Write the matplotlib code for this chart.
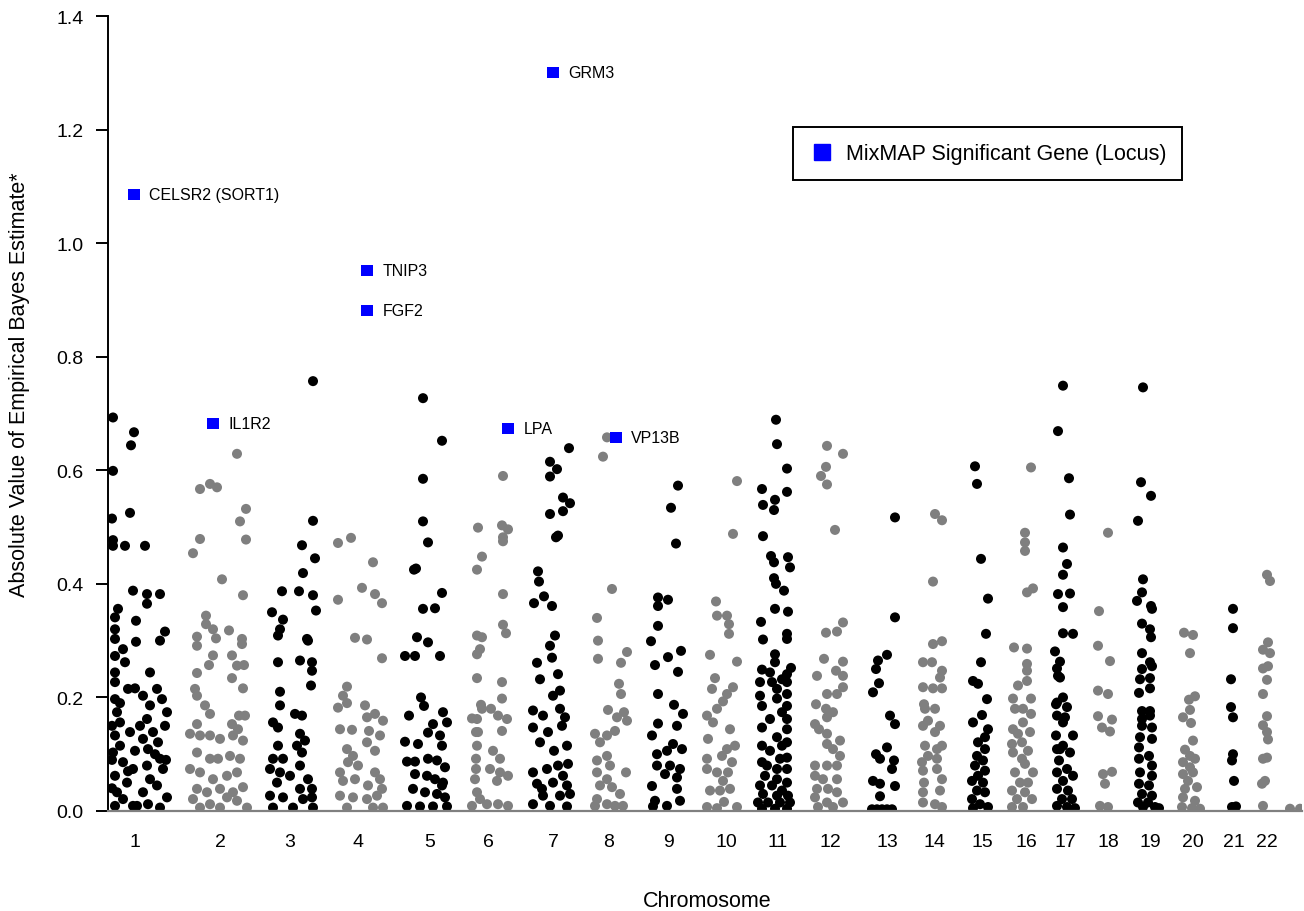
import matplotlib
matplotlib.use('Agg')
import matplotlib.pyplot as plt
from matplotlib.lines import Line2D

plt.rcParams['font.family'] = ['Liberation Sans', 'DejaVu Sans']

# position along the genome (plot units), absolute value of EB estimate
chr1 = [(113,.693),(134,.667),(131,.644),(113,.599),(130,.525),(112,.515),(113,.477),(113,.467),(125,.467),(145,.467),
        (133,.388),(147,.382),(147,.365),(160,.382),(118,.356),(115,.341),(136,.335),(115,.320),(165,.316),(115,.303),
        (160,.300),(136,.298),(123,.285),(115,.273),(125,.262),(115,.244),(150,.244),(115,.227),(128,.215),(135,.216),
        (157,.215),(143,.203),(115,.197),(162,.197),(150,.186),(117,.174),(167,.174),(147,.162),(120,.156),(130,.139),
        (153,.139),(115,.133),(143,.127),(158,.121),(120,.115),(148,.109),(135,.106),(113,.103),(160,.092),(123,.086),
        (147,.080),(133,.074),(163,.074),(115,.062),(150,.056),(127,.050),(157,.045),(117,.033),(143,.033),(123,.021),
        (167,.024),(148,.012),(115,.009),(133,.009),(137,.009),(160,.006),(112,.150),(112,.090),(112,.040),(120,.190),
        (155,.100),(165,.150),(140,.150),(128,.070),(166,.090)]
chr2 = [(237,.629),(200,.567),(210,.576),(217,.570),(246,.532),(240,.510),(200,.479),(246,.478),(193,.454),(222,.408),
        (243,.380),(206,.344),(206,.329),(213,.320),(197,.307),(197,.291),(216,.304),(229,.318),(242,.303),(242,.294),
        (213,.274),(209,.257),(232,.274),(237,.256),(244,.257),(197,.243),(232,.234),(243,.216),(195,.215),(197,.203),
        (205,.186),(210,.171),(239,.168),(245,.168),(232,.153),(197,.153),(190,.136),(200,.133),(210,.133),(220,.127),
        (233,.133),(243,.124),(238,.144),(197,.103),(210,.092),(218,.092),(230,.097),(240,.092),(190,.074),(200,.068),
        (213,.056),(227,.062),(237,.068),(243,.042),(197,.039),(207,.033),(220,.039),(233,.033),(193,.021),(210,.012),
        (227,.024),(237,.018),(200,.006),(247,.006),(220,.006)]
chr3 = [(313,.757),(313,.511),(302,.468),(315,.445),(303,.419),(282,.387),(299,.387),(313,.380),(316,.353),(272,.350),
        (283,.337),(280,.320),(278,.309),(307,.303),(308,.300),(278,.262),(300,.265),(312,.262),(312,.247),(311,.221),
        (280,.210),(280,.186),(295,.171),(302,.168),(273,.156),(278,.147),(300,.136),(305,.124),(278,.115),(297,.115),
        (302,.103),(273,.092),(283,.092),(300,.080),(270,.074),(280,.068),(290,.062),(308,.056),(277,.050),(300,.039),
        (312,.039),(270,.027),(283,.024),(303,.021),(312,.024),(273,.006),(293,.006),(313,.006)]
chr4 = [(338,.472),(351,.481),(373,.438),(362,.393),(338,.372),(375,.382),(382,.366),(355,.305),(367,.302),(382,.269),
        (347,.219),(343,.203),(347,.190),(338,.182),(365,.186),(375,.171),(367,.165),(383,.159),(340,.144),(352,.143),
        (369,.141),(380,.133),(367,.121),(375,.106),(347,.109),(353,.097),(348,.086),(358,.080),(340,.068),(355,.056),
        (343,.053),(375,.068),(380,.056),(368,.045),(382,.039),(340,.027),(353,.024),(367,.021),(377,.027),(347,.006),
        (373,.006),(383,.006)]
chr5 = [(423,.727),(442,.652),(423,.585),(423,.510),(428,.473),(416,.427),(414,.425),(442,.384),(423,.356),(435,.357),
        (417,.306),(428,.297),(405,.273),(415,.273),(440,.273),(421,.200),(424,.185),(409,.168),(443,.174),(447,.156),
        (433,.153),(428,.138),(440,.133),(405,.122),(418,.118),(442,.115),(407,.087),(415,.087),(428,.092),(437,.089),
        (445,.077),(415,.065),(427,.062),(435,.056),(443,.050),(413,.039),(425,.033),(437,.030),(445,.024),(407,.009),
        (420,.008),(433,.008),(447,.008),(442,.045)]
chr6 = [(503,.590),(478,.499),(502,.503),(508,.496),(503,.482),(503,.475),(482,.448),(477,.425),(503,.382),(477,.309),
        (482,.306),(503,.328),(506,.313),(480,.285),(477,.276),(477,.234),(502,.227),(502,.198),(481,.187),(472,.163),
        (491,.180),(498,.168),(507,.162),(502,.141),(477,.162),(478,.139),(477,.115),(493,.106),(500,.092),(476,.092),
        (490,.074),(500,.068),(508,.062),(475,.056),(497,.053),(477,.033),(472,.009),(487,.012),(498,.012),(508,.009),
        (480,.021),(476,.074),(476,.139),(482,.180)]
chr7 = [(569,.639),(550,.615),(557,.602),(550,.589),(563,.552),(570,.542),(563,.528),(550,.523),(558,.485),(556,.482),
        (538,.422),(539,.404),(544,.378),(552,.361),(534,.366),(555,.309),(550,.291),(552,.270),(537,.261),(540,.232),
        (558,.241),(560,.212),(553,.203),(533,.177),(560,.180),(543,.168),(565,.165),(533,.147),(548,.139),(562,.150),
        (540,.121),(554,.106),(567,.115),(533,.068),(547,.074),(558,.080),(568,.083),(563,.062),(537,.048),(553,.050),
        (567,.045),(543,.027),(560,.027),(533,.012),(550,.009),(567,.008),(542,.039),(570,.030)]
chr8 = [(607,.658),(603,.624),(612,.391),(597,.340),(598,.300),(598,.268),(627,.280),(621,.261),(619,.224),(621,.206),
        (608,.178),(624,.174),(617,.165),(627,.159),(615,.141),(595,.136),(607,.133),(600,.121),(597,.089),(607,.097),
        (610,.080),(597,.068),(607,.056),(626,.068),(600,.045),(612,.042),(597,.021),(620,.030),(607,.012),(595,.009),
        (623,.009),(615,.009)]
chr9 = [(678,.573),(671,.534),(676,.471),(658,.376),(668,.372),(658,.361),(658,.326),(651,.299),(681,.282),(655,.257),
        (668,.271),(678,.245),(658,.206),(674,.187),(683,.171),(658,.154),(677,.150),(652,.133),(673,.118),(682,.109),
        (657,.100),(667,.106),(657,.080),(670,.080),(680,.074),(665,.065),(677,.059),(677,.039),(652,.044),(655,.018),
        (680,.018),(667,.009),(653,.008)]
chr10 = [(737,.581),(733,.488),(716,.369),(717,.344),(727,.344),(729,.329),(729,.312),(710,.275),(737,.263),(715,.234),
         (712,.215),(733,.218),(727,.206),(723,.193),(717,.180),(707,.168),(713,.156),(730,.144),(708,.127),(735,.115),
         (727,.109),(707,.092),(722,.097),(732,.086),(707,.074),(717,.068),(728,.068),(723,.053),(710,.036),(720,.036),
         (730,.039),(724,.016),(707,.007),(737,.007),(717,.005)]
chr11 = [(776,.689),(777,.646),(787,.603),(787,.562),(762,.567),(775,.548),(763,.539),(774,.530),(763,.484),(771,.449),
         (774,.438),(788,.447),(790,.429),(774,.410),(776,.400),(784,.388),(775,.356),(788,.351),(761,.333),(763,.302),
         (787,.312),(787,.303),(775,.276),(775,.262),(791,.252),(762,.249),(770,.244),(787,.241),(760,.227),(772,.227),
         (787,.227),(777,.215),(760,.203),(787,.206),(762,.185),(777,.198),(787,.185),(770,.162),(762,.147),(787,.162),
         (787,.144),(777,.130),(762,.115),(787,.121),(770,.106),(762,.086),(780,.092),(787,.094),(777,.074),(787,.074),
         (765,.062),(777,.056),(760,.045),(772,.045),(787,.050),(782,.036),(763,.030),(777,.027),(788,.027),(758,.015),
         (768,.015),(780,.015),(790,.015),(762,.004),(775,.004),(787,.004),(782,.115),(782,.174),(782,.232),(767,.080)]
chr12 = [(827,.643),(843,.629),(826,.606),(821,.590),(827,.575),(835,.495),(843,.332),(826,.314),(837,.316),(824,.268),
         (843,.263),(817,.238),(836,.247),(843,.238),(843,.218),(827,.206),(837,.206),(816,.188),(826,.180),(833,.174),
         (827,.165),(815,.153),(819,.144),(827,.136),(840,.124),(827,.118),(833,.109),(840,.097),(815,.080),(827,.080),
         (837,.080),(815,.062),(823,.056),(837,.056),(817,.039),(828,.039),(837,.033),(815,.024),(827,.015),(843,.015),
         (818,.007),(833,.007)]
chr13 = [(895,.517),(895,.341),(887,.275),(878,.265),(876,.250),(879,.225),(873,.209),(890,.168),(895,.153),(887,.112),
         (876,.100),(880,.092),(894,.089),(892,.074),(873,.053),(880,.048),(895,.044),(880,.026),(872,.003),(877,.003),
         (882,.003),(887,.003),(892,.003)]
chr14 = [(935,.523),(942,.512),(933,.404),(942,.299),(933,.294),(923,.262),(932,.262),(942,.247),(940,.235),(923,.218),
         (933,.216),(942,.216),(924,.188),(925,.180),(935,.180),(928,.159),(923,.150),(940,.150),(935,.139),(925,.115),
         (937,.109),(942,.115),(928,.097),(937,.092),(922,.086),(923,.071),(937,.074),(942,.056),(924,.050),(923,.033),
         (940,.036),(923,.015),(935,.012),(942,.007)]
chr15 = [(975,.607),(977,.576),(981,.444),(988,.374),(986,.312),(981,.262),(973,.229),(978,.224),(987,.197),(982,.169),
         (973,.156),(988,.144),(985,.130),(978,.121),(985,.109),(977,.097),(983,.089),(975,.080),(985,.071),(978,.062),
         (972,.053),(983,.050),(977,.036),(985,.033),(972,.021),(980,.012),(988,.007),(973,.005)]
chr16 = [(1031,.605),(1025,.490),(1025,.473),(1025,.458),(1033,.392),(1027,.385),(1014,.288),(1027,.286),(1027,.259),
         (1027,.247),(1018,.221),(1027,.229),(1013,.198),(1031,.198),(1015,.180),(1023,.180),(1031,.171),(1023,.156),
         (1013,.144),(1018,.136),(1030,.139),(1012,.118),(1022,.121),(1013,.103),(1028,.106),(1022,.092),(1025,.083),
         (1033,.068),(1015,.068),(1020,.050),(1028,.050),(1012,.036),(1025,.033),(1017,.021),(1032,.021),(1012,.007),
         (1023,.007)]
chr17 = [(1063,.749),(1058,.669),(1069,.586),(1070,.522),(1063,.464),(1067,.435),(1063,.416),(1058,.382),(1070,.383),
         (1063,.359),(1063,.313),(1073,.312),(1055,.281),(1060,.263),(1057,.251),(1060,.235),(1063,.200),(1056,.188),
         (1067,.183),(1057,.168),(1065,.165),(1056,.133),(1073,.133),(1063,.115),(1057,.109),(1070,.103),(1059,.089),
         (1067,.074),(1057,.068),(1073,.062),(1063,.053),(1057,.039),(1068,.036),(1062,.021),(1072,.021),(1057,.009),
         (1067,.007),(1075,.005),(1058,.238),(1057,.191),(1063,.156),(1060,.109)]
chr18 = [(1108,.490),(1099,.352),(1098,.291),(1110,.264),(1098,.212),(1108,.206),(1098,.167),(1112,.161),(1102,.147),
         (1110,.140),(1103,.065),(1112,.069),(1105,.048),(1100,.009),(1108,.007)]
chr19 = [(1143,.746),(1141,.579),(1151,.555),(1138,.511),(1143,.408),(1142,.385),(1137,.370),(1151,.361),(1152,.356),
         (1142,.330),(1150,.320),(1151,.306),(1142,.278),(1150,.262),(1142,.250),(1152,.255),(1140,.232),(1150,.234),
         (1150,.216),(1139,.208),(1142,.176),(1150,.176),(1150,.168),(1142,.162),(1152,.147),(1142,.150),(1140,.130),
         (1152,.127),(1139,.112),(1149,.097),(1139,.092),(1152,.080),(1140,.068),(1152,.062),(1139,.048),(1149,.045),
         (1142,.030),(1152,.027),(1138,.015),(1148,.015),(1143,.007),(1155,.007),(1159,.005)]
chr20 = [(1184,.314),(1193,.310),(1190,.278),(1189,.196),(1195,.202),(1190,.178),(1183,.165),(1191,.155),(1193,.124),
         (1185,.108),(1190,.097),(1195,.092),(1183,.086),(1190,.077),(1193,.068),(1183,.065),(1188,.053),(1197,.042),
         (1185,.039),(1183,.024),(1195,.018),(1182,.007),(1192,.005),(1200,.004)]
chr21 = [(1233,.356),(1233,.322),(1231,.232),(1231,.183),(1233,.165),(1233,.100),(1232,.089),(1234,.053),(1232,.007),
         (1236,.008)]
chr22 = [(1267,.416),(1270,.405),(1268,.297),(1263,.284),(1270,.278),(1268,.255),(1263,.251),(1267,.231),(1263,.206),
         (1267,.167),(1263,.151),(1267,.139),(1268,.126),(1263,.092),(1267,.094),(1262,.048),(1265,.053),(1263,.009),
         (1290,.004),(1300,.004)]

chromosomes = [chr1, chr2, chr3, chr4, chr5, chr6, chr7, chr8, chr9, chr10, chr11,
               chr12, chr13, chr14, chr15, chr16, chr17, chr18, chr19, chr20, chr21, chr22]
chrom_labels = [str(i) for i in range(1, 23)]
chrom_mid = [135, 220, 290, 358, 430, 488, 553, 609, 668, 726, 778, 830, 887, 934, 982, 1026,
             1065, 1108, 1150, 1193, 1234, 1267]

# MixMAP significant genes
genes = ['CELSR2 (SORT1)', 'IL1R2', 'TNIP3', 'FGF2', 'LPA', 'GRM3', 'VP13B']
gene_pos = [134, 213, 367, 367, 508, 553, 616]
gene_val = [1.085, 0.683, 0.952, 0.882, 0.674, 1.300, 0.657]

fig = plt.figure(figsize=(13.04, 9.12), dpi=100)
ax = fig.add_axes([108/1304, 100/912, (1302-108)/1304, 795/912])

for i, pts in enumerate(chromosomes):
    col = 'black' if i % 2 == 0 else '#7f7f7f'
    xs = [p[0] for p in pts]
    ys = [p[1] for p in pts]
    ax.scatter(xs, ys, s=52, c=col, edgecolors='none', zorder=2)

ax.scatter(gene_pos, gene_val, s=64, marker='s', c='#0000ff', edgecolors='none', zorder=3)
for g, x, y in zip(genes, gene_pos, gene_val):
    ax.annotate(g, (x, y), xytext=(11, 0), textcoords='offset points',
                va='center', ha='left', fontsize=11.5)

ax.set_xlim(108, 1302)
ax.set_ylim(0, 1.4)
ax.set_yticks([0, 0.2, 0.4, 0.6, 0.8, 1.0, 1.2, 1.4])
ax.set_yticklabels(['0.0', '0.2', '0.4', '0.6', '0.8', '1.0', '1.2', '1.4'])
ax.set_xticks(chrom_mid)
ax.set_xticklabels(chrom_labels)
ax.tick_params(axis='y', direction='out', length=8.5, width=1.4, labelsize=14, pad=9)
ax.tick_params(axis='x', length=0, labelsize=14, pad=16)

for s in ['top', 'right']:
    ax.spines[s].set_visible(False)
ax.spines['left'].set_linewidth(1.4)
ax.spines['bottom'].set_color('#808080')
ax.spines['bottom'].set_linewidth(1.6)

fig.text(20/1304, 1 - 385/912, 'Absolute Value of Empirical Bayes Estimate*',
         rotation=90, ha='center', va='center', fontsize=15.5)
fig.text(707/1304, 1 - 902/912, 'Chromosome', ha='center', va='center', fontsize=15.5)

handle = Line2D([], [], marker='s', color='#0000ff', linestyle='none', markersize=11)
ax.legend([handle], ['MixMAP Significant Gene (Locus)'], loc='upper left',
          bbox_to_anchor=(793/1304, 1 - 128/912), bbox_transform=fig.transFigure,
          borderaxespad=0, fancybox=False, edgecolor='black', framealpha=1,
          fontsize=15.5, handlelength=1.2, handletextpad=0.5, borderpad=0.75)
ax.get_legend().get_frame().set_linewidth(1.4)

fig.savefig('out.png', dpi=100)
